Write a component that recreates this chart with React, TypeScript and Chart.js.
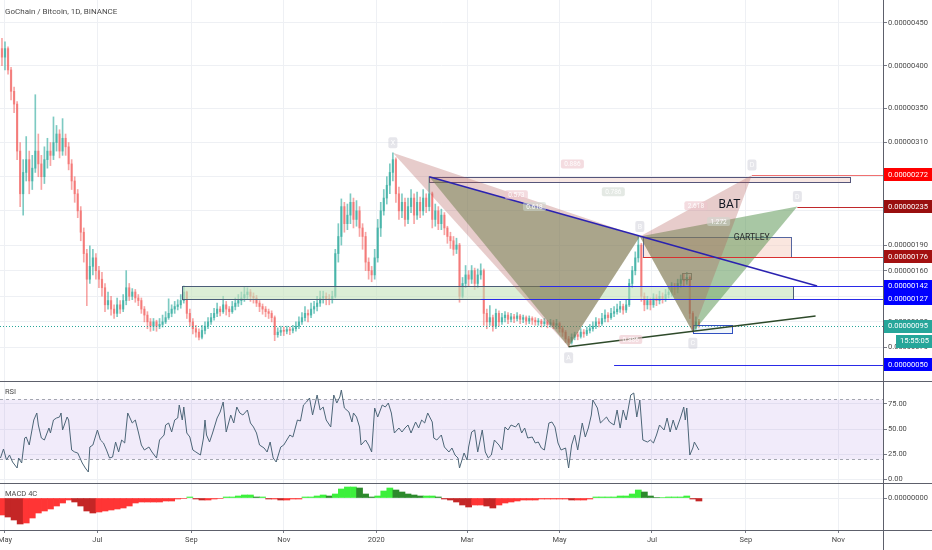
import React, { useEffect, useRef } from 'react';
import { Chart, registerables } from 'chart.js';

Chart.register(...registerables);

// ---------------- data ----------------
const TITLE = 'GoChain / Bitcoin, 1D, BINANCE';
// x axis: days since 1 May 2019
const MONTH_TICKS = [0, 61, 123, 184, 245, 305, 366, 427, 489, 550];
const MONTH_LABELS = ['May', 'Jul', 'Sep', 'Nov', '2020', 'Mar', 'May', 'Jul', 'Sep', 'Nov'];
// price axis in satoshi (1e-8 BTC)
const PRICE_TICKS = [70, 100, 130, 160, 190, 230, 270, 310, 350, 400, 450];
const RSI_TICKS = [0, 25, 50, 75];
const MACD_TICKS = [0];

const CANDLE_START_DAY = -2;
const CANDLE_STEP_DAYS = 2;
const FIRST_OPEN = 420;
const CLOSE = [
  410, 420, 395, 370, 355, 300, 250, 275, 290, 265,
  280, 300, 285, 270, 290, 300, 295, 310, 320, 300,
  315, 305, 285, 265, 250, 230, 205, 180, 150, 165,
  175, 160, 150, 140, 120, 125, 115, 110, 120, 115,
  125, 140, 130, 135, 128, 125, 115, 108, 100, 95,
  100, 95, 97, 100, 105, 110, 115, 118, 120, 125,
  135, 110, 100, 92, 88, 82, 90, 95, 100, 105,
  110, 115, 112, 120, 115, 112, 118, 122, 125, 128,
  132, 135, 130, 128, 122, 118, 115, 112, 110, 105,
  85, 88, 90, 89, 91, 90, 92, 95, 100, 105,
  110, 108, 115, 118, 122, 128, 130, 127, 126, 130,
  180, 200, 235, 215, 225, 240, 220, 230, 210, 200,
  170, 160, 155, 175, 210, 230, 245, 260, 275, 290,
  250, 230, 240, 220, 235, 245, 225, 240, 230, 245,
  235, 250, 220, 230, 215, 225, 210, 200, 195, 185,
  190, 130, 145, 155, 150, 160, 145, 155, 160, 110,
  100, 105, 95, 110, 100, 105, 108, 103, 106, 104,
  107, 103, 105, 101, 104, 102, 100, 101, 98, 100,
  97, 99, 96, 98, 92, 88, 80, 76, 82, 85,
  83, 88, 86, 90, 92, 95, 100, 98, 104, 108,
  105, 110, 112, 115, 118, 114, 120, 145, 160, 175,
  190, 130, 120, 125, 120, 128, 125, 130, 127, 132,
  135, 140, 138, 145, 150, 148, 152, 110, 92, 100,
  95,
];
const HIGH = [
  432, 428, 422, 398, 375, 358, 310, 290, 317, 300,
  295, 366, 320, 295, 305, 315, 310, 340, 330, 325,
  338, 320, 310, 290, 270, 255, 235, 210, 185, 189,
  185, 180, 165, 158, 145, 135, 130, 120, 128, 125,
  132, 160, 145, 139, 138, 132, 128, 118, 112, 104,
  104, 102, 104, 108, 112, 127, 120, 124, 126, 132,
  142, 136, 115, 104, 96, 92, 96, 100, 105, 110,
  116, 122, 118, 130, 124, 118, 124, 128, 132, 135,
  141, 140, 138, 134, 131, 125, 121, 118, 115, 113,
  107, 93, 95, 94, 95, 94, 96, 100, 106, 111,
  118, 114, 122, 124, 130, 136, 136, 134, 132, 136,
  185, 215, 244, 240, 238, 250, 245, 242, 235, 215,
  205, 175, 165, 185, 220, 240, 255, 270, 285, 298,
  292, 258, 250, 245, 245, 255, 250, 252, 246, 255,
  250, 270, 252, 238, 235, 232, 228, 212, 205, 200,
  198, 192, 152, 166, 160, 166, 163, 162, 168, 162,
  115, 119, 108, 115, 113, 110, 112, 111, 110, 109,
  111, 109, 108, 107, 107, 106, 105, 104, 103, 104,
  102, 103, 102, 103, 100, 95, 90, 83, 86, 88,
  88, 92, 91, 94, 97, 100, 105, 104, 110, 114,
  111, 116, 118, 121, 124, 121, 126, 150, 165, 182,
  200, 192, 134, 130, 128, 133, 132, 136, 134, 138,
  141, 146, 145, 150, 155, 156, 158, 154, 112, 106,
  103,
];
const LOW = [
  400, 395, 390, 360, 345, 290, 235, 225, 265, 250,
  255, 275, 270, 255, 262, 280, 283, 290, 300, 292,
  295, 295, 278, 255, 240, 222, 195, 170, 119, 145,
  155, 150, 140, 130, 112, 115, 108, 104, 106, 110,
  112, 120, 125, 126, 123, 119, 110, 100, 92, 89,
  90, 89, 92, 94, 98, 103, 106, 110, 114, 116,
  122, 104, 95, 86, 82, 79, 80, 86, 92, 97,
  102, 106, 107, 110, 108, 106, 110, 114, 118, 120,
  124, 126, 124, 122, 118, 112, 109, 106, 104, 100,
  78, 82, 84, 84, 86, 85, 87, 89, 92, 97,
  101, 100, 105, 110, 113, 118, 122, 120, 120, 122,
  128, 170, 190, 205, 208, 215, 210, 212, 200, 185,
  160, 150, 147, 150, 170, 200, 225, 238, 250, 265,
  240, 220, 222, 212, 215, 228, 215, 220, 222, 225,
  228, 230, 210, 212, 208, 208, 202, 192, 186, 178,
  180, 123, 128, 140, 142, 145, 138, 140, 150, 96,
  92, 96, 89, 92, 95, 97, 100, 98, 100, 99,
  101, 98, 99, 97, 98, 97, 96, 96, 94, 95,
  93, 94, 92, 92, 88, 83, 76, 71, 74, 79,
  79, 81, 82, 84, 87, 89, 92, 94, 96, 100,
  100, 103, 106, 109, 111, 109, 111, 118, 140, 155,
  170, 124, 113, 115, 114, 117, 119, 121, 122, 124,
  128, 130, 132, 134, 140, 142, 144, 104, 88, 90,
  93,
];
const LAST_PRICE = 95;
const CLOCK = '15:55:05';

const RSI_DAYS = [
  -3, -1, 1, 3, 5, 8, 9, 11, 13, 14, 16, 19, 21, 22, 24, 26, 29, 30, 32, 34,
  36, 37, 38, 41, 42, 44, 46, 48, 51, 53, 55, 56, 58, 61, 63, 65, 67, 69, 71, 73,
  75, 77, 79, 81, 84, 86, 88, 90, 92, 95, 97, 100, 102, 105, 106, 108, 110, 112, 114, 115,
  117, 118, 120, 122, 124, 126, 129, 131, 132, 133, 135, 137, 140, 142, 144, 146, 149, 151, 153, 155,
  157, 160, 162, 164, 166, 168, 171, 173, 175, 177, 179, 182, 184, 186, 188, 190, 193, 195, 197, 199,
  201, 203, 206, 208, 210, 212, 215, 217, 219, 221, 222, 224, 227, 229, 230, 232, 234, 235, 238, 240,
  242, 244, 246, 249, 251, 253, 255, 257, 260, 262, 264, 266, 268, 271, 273, 275, 277, 279, 282, 283,
  285, 288, 290, 293, 295, 297, 299, 300, 303, 305, 306, 308, 310, 312, 315, 317, 319, 321, 323, 326,
  328, 330, 332, 334, 337, 339, 341, 343, 345, 348, 350, 352, 354, 356, 359, 361, 363, 365, 367, 370,
  372, 374, 376, 378, 381, 383, 385, 387, 388, 391, 393, 395, 397, 399, 402, 404, 406, 408, 410, 413,
  415, 417, 419, 421, 424, 426, 428, 430, 432, 435, 437, 439, 441, 443, 446, 448, 449, 450, 452, 454,
  455, 458,
];
const RSI_VALUES = [
  21, 30, 19, 24, 17, 11, 21, 16, 41, 42, 34, 59, 66, 54, 41, 39, 51, 46, 59, 61,
  62, 66, 49, 62, 59, 29, 27, 26, 16, 11, 7, 32, 34, 49, 39, 36, 29, 21, 22, 37,
  27, 39, 36, 66, 56, 59, 47, 34, 29, 32, 27, 21, 39, 44, 54, 56, 47, 59, 61, 74,
  59, 72, 46, 42, 29, 27, 24, 41, 59, 44, 37, 46, 61, 67, 77, 47, 64, 56, 72, 66,
  64, 69, 56, 52, 46, 34, 31, 27, 37, 21, 17, 32, 34, 39, 44, 42, 59, 58, 74, 77,
  81, 64, 84, 69, 72, 59, 52, 84, 76, 82, 89, 71, 67, 57, 66, 62, 52, 34, 39, 34,
  27, 71, 62, 74, 72, 76, 66, 46, 51, 47, 51, 54, 46, 57, 51, 59, 56, 66, 57, 41,
  39, 44, 32, 27, 31, 24, 21, 11, 26, 19, 32, 47, 49, 27, 49, 27, 21, 24, 39, 34,
  29, 52, 49, 54, 52, 56, 46, 51, 41, 42, 36, 37, 31, 29, 56, 57, 52, 36, 29, 31,
  11, 34, 44, 29, 56, 42, 51, 64, 79, 71, 56, 59, 62, 57, 54, 69, 51, 69, 59, 84,
  86, 62, 79, 39, 37, 39, 36, 44, 54, 49, 61, 47, 59, 49, 62, 72, 59, 71, 24, 31,
  37, 29,
];

const MACD_START_DAY = -2;
const MACD_STEP_DAYS = 4;
const MACD_HIST = [
  -17, -19, -22, -26, -25, -20, -15, -13, -11, -8,
  -5, -2, -4, -8, -13, -15, -14, -13, -12, -11,
  -10, -8, -5, -4, -4, -4, -4, -3, -3, -1,
  -0.5, 1, -1, -2, -2, -1, -0.5, 1, 1, 2,
  3, 3, 1, 1, -1, -1, -2, -2, -1, -1,
  1, 1, 2, 3, 2, 4, 9, 11, 11, 10,
  4, 1, 2, 7, 10, 8, 6, 4, 3, 2,
  2, 2, 1, -1, -2, -4, -7, -9, -7, -7,
  -8, -10, -7, -5, -4, -3, -2, -2, -2, -1,
  -1, -1, -1, -1, -2, -2, -2, -1, 1, 1,
  1, 1, 2, 2, 4, 8, 6, 2, 0.5, 0.5,
  1, 1, 1, 2, -1, -3,
];

// drawings, in data coordinates [day, satoshi]
const BAT_XABCD = [[256, 298], [372, 71], [419, 200], [454, 88], [493, 272]];
const GARTLEY_XABCD = [[280, 270], [372, 71], [419, 200], [454, 88], [523, 235]];
const POINT_NAMES = ['X', 'A', 'B', 'C', 'D'];
const BAT_RATIOS = ['0.573', '0.886', '2.618', '0.886'];
const GARTLEY_RATIOS = ['0.618', '0.886', '1.272', '0.786'];
const RATIO_PAIRS = [[0, 2], [1, 3], [2, 4], [0, 4]];
const TREND_LINES = [[280, 270, 536, 142], [372, 71, 535, 107]];
const ZONES = [
  [117, 520, 142, 127],
  [280, 558, 270, 264],
  [421, 519, 199, 176],
  [454, 480, 96, 87],
  [447, 453, 157, 150],
];
const LEVELS = [272, 235, 176, 142, 127, 50];
const LEVEL_FROM_DAY = [493, 523, 421, 353, 314, 402];
const BAT_TEXT_AT = [471, 237];
const GARTLEY_TEXT_AT = [481, 199];

// ---------------- styles ----------------
const FONT = 'Roboto, "Liberation Sans", sans-serif';
const GRID = '#eef0f4';
const AXIS = '#5d606b';
const TEXT = '#4a4a4a';
const UP = 'rgba(38,166,154,0.6)';
const DOWN = 'rgba(239,83,80,0.52)';
const X_MIN = -3.3;
const X_MAX = 579.5;
const ZONE_FILLS = ['rgba(196,226,186,0.6)', 'rgba(240,212,204,0.55)', 'rgba(243,200,184,0.45)', 'rgba(215,228,242,0.35)', 'rgba(255,255,255,0)'];
const ZONE_STROKES = ['#4b5d78', '#55557a', '#5566a0', '#3050c0', '#8a8a8a'];
const LEVEL_COLORS = ['#f07070', '#c0282b', '#d83030', '#2a2ae8', '#2a2ae8', '#2a2ae8'];
const LEVEL_BADGES = ['#ff0000', '#990f0f', '#a31010', '#0000ff', '#0000ff', '#0000ff'];
const TREND_COLORS = ['#2a22b0', '#2e4a2a'];
const GARTLEY_FILL = 'rgba(81,143,73,0.5)';
const BAT_FILL = 'rgba(175,85,82,0.3)';

const candleDay = (i: number) => CANDLE_START_DAY + CANDLE_STEP_DAYS * i;
const satLabel = (v: number) => '0.' + String(Math.round(v)).padStart(8, '0');

function hiddenX(): any {
  return {
    type: 'linear',
    min: X_MIN,
    max: X_MAX,
    offset: false,
    afterBuildTicks: (s: any) => { s.ticks = MONTH_TICKS.map((v) => ({ value: v })); },
    ticks: { display: false },
    grid: { color: GRID, drawTicks: false, offset: false },
    border: { display: false },
    afterFit: (s: any) => { s.height = 0; s.paddingLeft = 0; s.paddingRight = 0; s.paddingTop = 0; s.paddingBottom = 0; },
  };
}

function rightY(min: number, max: number, ticks: number[], cb: (v: number) => string): any {
  return {
    position: 'right',
    min,
    max,
    afterBuildTicks: (s: any) => { s.ticks = ticks.map((v) => ({ value: v })); },
    ticks: { callback: (v: any) => cb(Number(v)), font: { family: FONT, size: 7.5 }, color: TEXT, padding: 1, autoSkip: false },
    grid: { color: GRID, tickLength: 4, tickColor: '#787b86' },
    border: { display: true, color: AXIS },
    afterFit: (s: any) => { s.width = 49; s.paddingTop = 0; s.paddingBottom = 0; s.paddingLeft = 0; s.paddingRight = 0; },
  };
}

function box(ctx: any, cx: number, cy: number, w: number, h: number, fill: string, text: string, color: string, size: number) {
  ctx.fillStyle = fill;
  ctx.beginPath();
  if (ctx.roundRect) ctx.roundRect(cx - w / 2, cy - h / 2, w, h, 2); else ctx.rect(cx - w / 2, cy - h / 2, w, h);
  ctx.fill();
  ctx.fillStyle = color;
  ctx.font = `${size}px ${FONT}`;
  ctx.textAlign = 'center';
  ctx.textBaseline = 'middle';
  ctx.fillText(text, cx, cy + 0.5);
}

const mainPlugin = {
  id: 'mainDrawings',
  afterDatasetsDraw(chart: any) {
    const { ctx, chartArea: ca } = chart;
    const xs = chart.scales.x;
    const ys = chart.scales.y;
    const X = (d: number) => xs.getPixelForValue(d);
    const Y = (v: number) => ys.getPixelForValue(v);
    const crisp = (p: number) => Math.round(p) + 0.5;

    ctx.save();
    ctx.beginPath();
    ctx.rect(ca.left, ca.top, ca.right - ca.left, ca.bottom - ca.top);
    ctx.clip();

    // last price dotted line
    const yl = crisp(Y(LAST_PRICE));
    ctx.strokeStyle = '#26a69a';
    ctx.lineWidth = 1;
    ctx.setLineDash([1, 2]);
    ctx.beginPath(); ctx.moveTo(ca.left, yl); ctx.lineTo(ca.right, yl); ctx.stroke();
    ctx.setLineDash([]);

    // rectangles
    ZONES.forEach(([d0, d1, vt, vb], k) => {
      const x0 = crisp(X(d0)); const x1 = crisp(X(d1));
      const y0 = crisp(Y(vt)); const y1 = crisp(Y(vb));
      ctx.fillStyle = ZONE_FILLS[k];
      ctx.fillRect(x0, y0, x1 - x0, y1 - y0);
      ctx.strokeStyle = ZONE_STROKES[k];
      ctx.lineWidth = 1;
      ctx.strokeRect(x0, y0, x1 - x0, y1 - y0);
    });

    // harmonic patterns
    const tri = (a: number[], b: number[], c: number[], fill: string) => {
      ctx.beginPath();
      ctx.moveTo(X(a[0]), Y(a[1])); ctx.lineTo(X(b[0]), Y(b[1])); ctx.lineTo(X(c[0]), Y(c[1]));
      ctx.closePath();
      ctx.fillStyle = fill;
      ctx.fill();
    };
    const G = GARTLEY_XABCD;
    const B = BAT_XABCD;
    tri(G[0], G[1], G[2], GARTLEY_FILL); tri(G[2], G[3], G[4], GARTLEY_FILL);
    tri(B[0], B[1], B[2], BAT_FILL); tri(B[2], B[3], B[4], BAT_FILL);

    // horizontal levels
    LEVELS.forEach((v, k) => {
      const y = crisp(Y(v));
      ctx.strokeStyle = LEVEL_COLORS[k];
      ctx.lineWidth = 1;
      ctx.beginPath(); ctx.moveTo(X(LEVEL_FROM_DAY[k]), y); ctx.lineTo(ca.right, y); ctx.stroke();
    });

    // trend lines
    TREND_LINES.forEach(([d0, v0, d1, v1], k) => {
      ctx.strokeStyle = TREND_COLORS[k];
      ctx.lineWidth = 1.5;
      ctx.beginPath(); ctx.moveTo(X(d0), Y(v0)); ctx.lineTo(X(d1), Y(v1)); ctx.stroke();
    });

    // ratio labels
    const ratios = (P: number[][], texts: string[], fill: string, skip: number[]) => {
      RATIO_PAIRS.forEach(([a, b], k) => {
        if (skip.includes(k)) return;
        const cx = (X(P[a][0]) + X(P[b][0])) / 2;
        const cy = (Y(P[a][1]) + Y(P[b][1])) / 2;
        box(ctx, cx, cy, 23, 9, fill, texts[k], 'rgba(255,255,255,0.95)', 6.5);
      });
    };
    ratios(GARTLEY_XABCD, GARTLEY_RATIOS, 'rgba(205,215,205,0.55)', [1]);
    ratios(BAT_XABCD, BAT_RATIOS, 'rgba(236,196,204,0.6)', []);

    // point labels
    const pts = (P: number[][], names: string[], skip: number[]) => {
      P.forEach(([d, v], k) => {
        if (skip.includes(k)) return;
        const above = k % 2 === 0;
        box(ctx, X(d), Y(v) + (above ? -10 : 11), 9, 11, 'rgba(205,205,215,0.5)', names[k], 'rgba(255,255,255,0.95)', 7);
      });
    };
    pts(BAT_XABCD, POINT_NAMES, []);
    pts(GARTLEY_XABCD, POINT_NAMES, [0, 1, 2, 3]);

    // pattern names
    ctx.fillStyle = '#131722';
    ctx.font = `12px ${FONT}`;
    ctx.textAlign = 'left';
    ctx.textBaseline = 'middle';
    ctx.fillText('BAT', X(BAT_TEXT_AT[0]), Y(BAT_TEXT_AT[1]));
    ctx.fillStyle = '#2b2b2b';
    ctx.font = `8.5px ${FONT}`;
    ctx.fillText('GARTLEY', X(GARTLEY_TEXT_AT[0]), Y(GARTLEY_TEXT_AT[1]) + 1);
    ctx.restore();

    // price badges on the axis
    const badge = (yc: number, bg: string, text: string, x0: number) => {
      ctx.fillStyle = bg;
      ctx.fillRect(x0, Math.round(yc - 6.5), chart.width - x0, 13);
      ctx.fillStyle = '#ffffff';
      ctx.font = `7.5px ${FONT}`;
      ctx.textAlign = 'left';
      ctx.textBaseline = 'middle';
      ctx.fillText(text, x0 + 4, Math.round(yc) + 0.5);
    };
    LEVELS.forEach((v, k) => badge(Y(v), LEVEL_BADGES[k], satLabel(v), ca.right + 1));
    badge(Y(LAST_PRICE), '#26a69a', satLabel(LAST_PRICE), ca.right + 1);
    badge(Y(LAST_PRICE) + 15, '#26a69a', CLOCK, ca.right + 13);

    // title
    ctx.save();
    ctx.fillStyle = TEXT;
    ctx.font = `8px ${FONT}`;
    ctx.textAlign = 'left';
    ctx.textBaseline = 'middle';
    ctx.fillText(TITLE, 5, 12);
    ctx.restore();
  },
};

const rsiPlugin = {
  id: 'rsiBand',
  beforeDatasetsDraw(chart: any) {
    const { ctx, chartArea: ca } = chart;
    const ys = chart.scales.y;
    const yTop = Math.round(ys.getPixelForValue(80)) + 0.5;
    const yBot = Math.round(ys.getPixelForValue(20)) + 0.5;
    ctx.save();
    ctx.fillStyle = 'rgba(149,100,215,0.13)';
    ctx.fillRect(ca.left, yTop, ca.right - ca.left, yBot - yTop);
    ctx.strokeStyle = '#a4a7b0';
    ctx.lineWidth = 1;
    ctx.setLineDash([3, 3]);
    [yTop, yBot].forEach((y) => { ctx.beginPath(); ctx.moveTo(ca.left, y); ctx.lineTo(ca.right, y); ctx.stroke(); });
    ctx.restore();
  },
  afterDraw(chart: any) {
    const { ctx } = chart;
    ctx.save();
    ctx.strokeStyle = AXIS;
    ctx.lineWidth = 1;
    ctx.beginPath(); ctx.moveTo(0, 0.5); ctx.lineTo(chart.width, 0.5); ctx.stroke();
    ctx.fillStyle = TEXT;
    ctx.font = `7.5px ${FONT}`;
    ctx.textBaseline = 'middle';
    ctx.fillText('RSI', 5, 11);
    ctx.restore();
  },
};

const macdPlugin = {
  id: 'macdFrame',
  afterDraw(chart: any) {
    const { ctx, chartArea: ca } = chart;
    ctx.save();
    ctx.strokeStyle = AXIS;
    ctx.lineWidth = 1;
    ctx.beginPath(); ctx.moveTo(0, 0.5); ctx.lineTo(chart.width, 0.5); ctx.stroke();
    ctx.beginPath(); ctx.moveTo(ca.right, Math.round(ca.bottom) + 0.5); ctx.lineTo(chart.width, Math.round(ca.bottom) + 0.5); ctx.stroke();
    ctx.beginPath(); ctx.moveTo(Math.round(ca.right) + 0.5, ca.bottom); ctx.lineTo(Math.round(ca.right) + 0.5, chart.height); ctx.stroke();
    ctx.fillStyle = TEXT;
    ctx.font = `7.5px ${FONT}`;
    ctx.textBaseline = 'middle';
    ctx.fillText('MACD 4C', 5, 11);
    ctx.restore();
  },
};

const common = {
  responsive: false,
  animation: false,
  events: [],
  layout: { padding: 0 },
  plugins: { legend: { display: false }, tooltip: { enabled: false } },
};

function mainConfig(): any {
  const opens = CLOSE.map((c, i) => (i === 0 ? FIRST_OPEN : CLOSE[i - 1]));
  const colors = CLOSE.map((c, i) => (c >= opens[i] ? UP : DOWN));
  return {
    type: 'bar',
    data: {
      datasets: [
        { data: CLOSE.map((_, i) => ({ x: candleDay(i), y: [LOW[i], HIGH[i]] })), backgroundColor: colors, barThickness: 1, grouped: false },
        { data: CLOSE.map((c, i) => ({ x: candleDay(i), y: [opens[i], c] })), backgroundColor: colors, barThickness: 1.6, grouped: false, minBarLength: 1 },
      ],
    },
    options: {
      ...common,
      scales: {
        x: hiddenX(),
        y: rightY(30.8, 476.9, PRICE_TICKS, satLabel),
      },
    },
    plugins: [mainPlugin],
  };
}

function rsiConfig(): any {
  return {
    type: 'line',
    data: {
      datasets: [{
        data: RSI_DAYS.map((d, i) => ({ x: d, y: RSI_VALUES[i] })),
        borderColor: '#4c6577',
        borderWidth: 1,
        pointRadius: 0,
        tension: 0,
      }],
    },
    options: {
      ...common,
      scales: {
        x: hiddenX(),
        y: rightY(-4, 98, RSI_TICKS, (v) => v.toFixed(2)),
      },
    },
    plugins: [rsiPlugin],
  };
}

function macdConfig(): any {
  const colors = MACD_HIST.map((v, i) => {
    const prev = i === 0 ? v : MACD_HIST[i - 1];
    if (v >= 0) return v >= prev ? '#3cf03c' : '#2c8a2c';
    return v >= prev ? '#ff3535' : '#c42626';
  });
  const x = hiddenX();
  x.ticks = {
    display: true,
    autoSkip: false,
    maxRotation: 0,
    padding: 3,
    font: { family: FONT, size: 7.5 },
    color: TEXT,
    callback: (_v: any, i: number) => MONTH_LABELS[i] ?? '',
  };
  x.grid = { color: GRID, drawTicks: true, tickLength: 3, tickColor: '#787b86', offset: false };
  x.border = { display: true, color: AXIS };
  x.afterFit = (s: any) => { s.height = 20; s.paddingLeft = 0; s.paddingRight = 0; s.paddingTop = 0; s.paddingBottom = 0; };
  return {
    type: 'bar',
    data: {
      datasets: [{
        data: MACD_HIST.map((v, i) => ({ x: MACD_START_DAY + MACD_STEP_DAYS * i, y: v })),
        backgroundColor: colors,
        barPercentage: 1,
        categoryPercentage: 1,
      }],
    },
    options: {
      ...common,
      scales: {
        x,
        y: rightY(-32, 15, MACD_TICKS, () => '0.00000000'),
      },
    },
    plugins: [macdPlugin],
  };
}

export default function App() {
  const mainRef = useRef<HTMLCanvasElement>(null);
  const rsiRef = useRef<HTMLCanvasElement>(null);
  const macdRef = useRef<HTMLCanvasElement>(null);

  useEffect(() => {
    const charts = [
      new Chart(mainRef.current as HTMLCanvasElement, mainConfig()),
      new Chart(rsiRef.current as HTMLCanvasElement, rsiConfig()),
      new Chart(macdRef.current as HTMLCanvasElement, macdConfig()),
    ];
    return () => charts.forEach((c) => c.destroy());
  }, []);

  const cv = (top: number, h: number): React.CSSProperties => ({ position: 'absolute', left: 0, top, width: 932, height: h, display: 'block' });

  return (
    <div style={{ position: 'fixed', left: 0, top: 0, width: 932, height: 550, background: '#ffffff', overflow: 'hidden' }}>
      <canvas ref={mainRef} width={932} height={381} style={cv(0, 381)} />
      <canvas ref={rsiRef} width={932} height={102} style={cv(381, 102)} />
      <canvas ref={macdRef} width={932} height={67} style={cv(483, 67)} />
    </div>
  );
}
